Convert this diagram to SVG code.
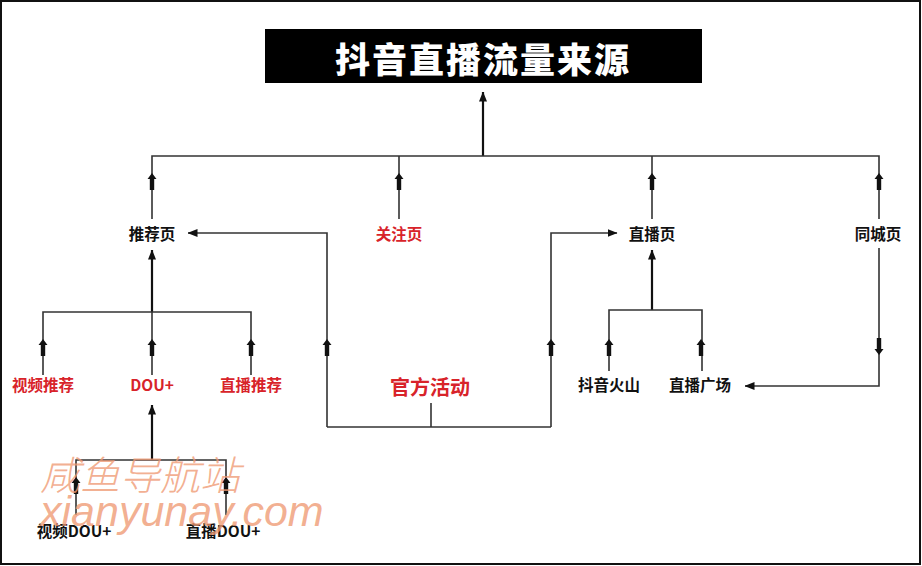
<svg xmlns="http://www.w3.org/2000/svg" xmlns:xlink="http://www.w3.org/1999/xlink" width="922" height="566" viewBox="0 0 922 566">
<style>
.t{font-family:"Noto Sans CJK SC","Liberation Sans",sans-serif;font-weight:bold;font-size:15.5px;text-anchor:middle;dominant-baseline:central}
.k{fill:#111}
.r{fill:#d8232a}
.ln{fill:none;stroke:#333;stroke-width:1.6}
.lm{fill:none;stroke:#111;stroke-width:2.2}
.wm{font-style:italic;fill:#ef9a74;fill-opacity:0.8}
</style>
<defs>
<path id="ta" d="M0,0 L4.5,6 L2.2,6 L2.2,17 L-2.2,17 L-2.2,6 L-4.5,6 Z" fill="#111"/>
<marker id="ah" markerUnits="userSpaceOnUse" markerWidth="10" markerHeight="10" viewBox="0 0 10 8" refX="9.5" refY="4" orient="auto">
<path d="M0,0 L10,4 L0,8 Z" fill="#111"/>
</marker>
</defs>
<rect x="1" y="1" width="919" height="563" fill="#fff" stroke="#111" stroke-width="2"/>

<g id="connectors">
<path class="lm" d="M483,156 V92" marker-end="url(#ah)"/>
<path class="ln" d="M152,219 V156 H879 V219"/>
<path class="ln" d="M399,156 V219"/>
<path class="ln" d="M652,156 V219"/>
<path class="ln" d="M879,248 V386 H745" marker-end="url(#ah)"/>
<path class="ln" d="M431,403 V427"/>
<path class="ln" d="M327,427 H551"/>
<path class="ln" d="M327,427 V233 H188" marker-end="url(#ah)"/>
<path class="ln" d="M551,427 V233 H617" marker-end="url(#ah)"/>
<path class="lm" d="M152,312 V250" marker-end="url(#ah)"/>
<path class="ln" d="M43,375 V312 H251 V375"/>
<path class="ln" d="M152,312 V375"/>
<path class="lm" d="M652,310 V250" marker-end="url(#ah)"/>
<path class="ln" d="M609,371 V310 H702 V371"/>
<path class="lm" d="M152,460 V405" marker-end="url(#ah)"/>
<path class="ln" d="M76,515 V460 H226 V515"/>
<use xlink:href="#ta" x="152" y="173"/>
<use xlink:href="#ta" x="399" y="173"/>
<use xlink:href="#ta" x="652" y="173"/>
<use xlink:href="#ta" x="879" y="173"/>
<use xlink:href="#ta" x="43" y="339"/>
<use xlink:href="#ta" x="152" y="339"/>
<use xlink:href="#ta" x="251" y="339"/>
<use xlink:href="#ta" x="327" y="339"/>
<use xlink:href="#ta" x="551" y="339"/>
<use xlink:href="#ta" x="609" y="339"/>
<use xlink:href="#ta" x="701" y="339"/>
<use xlink:href="#ta" transform="translate(879,355) rotate(180)"/>
<use xlink:href="#ta" x="76" y="477"/>
<use xlink:href="#ta" x="226" y="477"/>
</g>

<g id="title">
<rect x="265" y="29" width="437" height="54" fill="#000"/>
<text x="483" y="57" font-family="Noto Sans CJK SC,sans-serif" font-weight="900" font-size="35" fill="#fff" text-anchor="middle" dominant-baseline="central" letter-spacing="2">抖音直播流量来源</text>
</g>
<g id="n-tuijianye"><text class="t k" x="152" y="233">推荐页</text></g>
<g id="n-guanzhuye"><text class="t r" x="399" y="233">关注页</text></g>
<g id="n-zhiboye"><text class="t k" x="652" y="233">直播页</text></g>
<g id="n-tongchengye"><text class="t k" x="878" y="233">同城页</text></g>
<g id="n-shipintuijian"><text class="t r" x="43" y="384">视频推荐</text></g>
<g id="n-dou"><text class="t r" x="152" y="384">DOU+</text></g>
<g id="n-zhibotuijian"><text class="t r" x="251" y="384">直播推荐</text></g>
<g id="n-guanfang"><text class="t r" x="430" y="386" style="font-size:20px">官方活动</text></g>
<g id="n-douyinhuoshan"><text class="t k" x="609" y="384">抖音火山</text></g>
<g id="n-zhiboguangchang"><text class="t k" x="700" y="384">直播广场</text></g>
<g id="n-shipindou"><text class="t k" x="74" y="530">视频DOU+</text></g>
<g id="n-zhibodou"><text class="t k" x="223" y="530">直播DOU+</text></g>

<g id="watermark">
<text class="wm" x="40" y="490" font-size="40" style="font-family:'Noto Sans CJK SC',sans-serif;font-weight:300">咸鱼导航站</text>
<text class="wm" x="40" y="526" font-size="43" style="font-family:'Liberation Sans',sans-serif">xianyunay.com</text>
</g>
</svg>
